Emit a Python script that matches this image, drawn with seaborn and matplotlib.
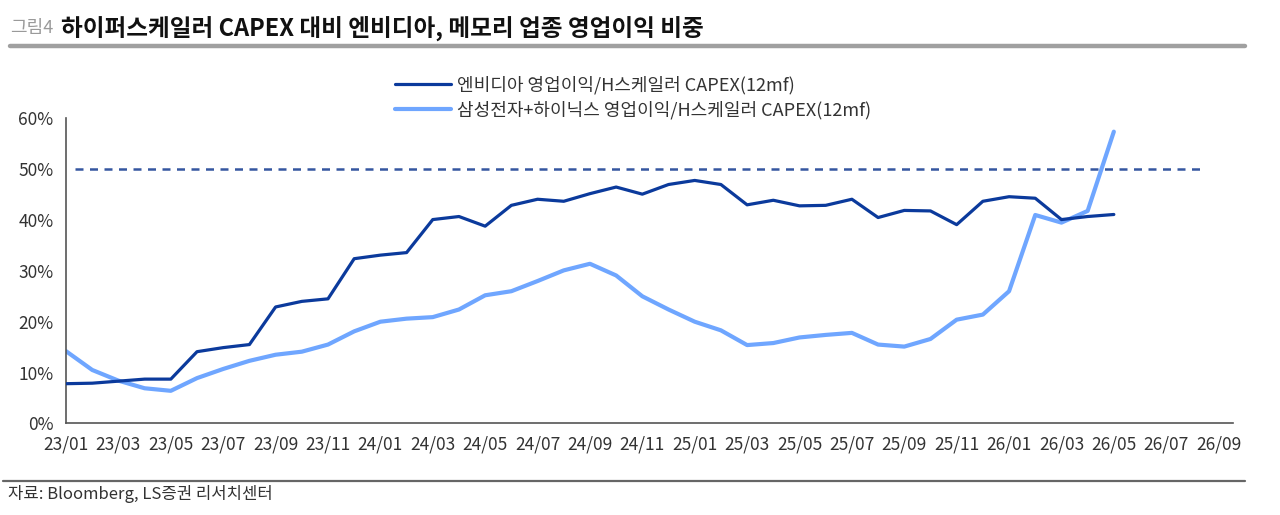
import pandas as pd
import numpy as np
import matplotlib.pyplot as plt
import seaborn as sns
from matplotlib.lines import Line2D
import warnings
warnings.filterwarnings('ignore')

# ------------------------------------------------------------
# Data (%)
# ------------------------------------------------------------
months = ['23/01', '23/02', '23/03', '23/04', '23/05', '23/06', '23/07', '23/08', '23/09', '23/10', '23/11', '23/12',
          '24/01', '24/02', '24/03', '24/04', '24/05', '24/06', '24/07', '24/08', '24/09', '24/10', '24/11', '24/12',
          '25/01', '25/02', '25/03', '25/04', '25/05', '25/06', '25/07', '25/08', '25/09', '25/10', '25/11', '25/12',
          '26/01', '26/02', '26/03', '26/04', '26/05']

nvidia = [7.8, 7.9, 8.3, 8.7, 8.7, 14.1, 14.9, 15.5, 22.9, 24.0, 24.5, 32.4,
          33.1, 33.6, 40.1, 40.7, 38.8, 42.9, 44.1, 43.7, 45.2, 46.5, 45.1, 47.0,
          47.8, 47.0, 43.0, 43.9, 42.8, 42.9, 44.1, 40.5, 41.9, 41.8, 39.1, 43.7,
          44.6, 44.3, 40.1, 40.7, 41.1]

memory = [14.2, 10.5, 8.4, 6.9, 6.4, 8.9, 10.7, 12.3, 13.5, 14.1, 15.5, 18.1,
          20.0, 20.6, 20.9, 22.4, 25.2, 26.0, 28.0, 30.1, 31.4, 29.1, 25.0, 22.4,
          20.0, 18.3, 15.4, 15.8, 16.9, 17.4, 17.8, 15.5, 15.1, 16.6, 20.4, 21.4,
          26.0, 41.0, 39.5, 41.8, 57.4]

tick_labels = ['23/01', '23/03', '23/05', '23/07', '23/09', '23/11', '24/01', '24/03', '24/05', '24/07',
               '24/09', '24/11', '25/01', '25/03', '25/05', '25/07', '25/09', '25/11', '26/01', '26/03',
               '26/05', '26/07', '26/09']

threshold = 50

label_nv = '엔비디아 영업이익/H스케일러 CAPEX(12mf)'
label_mem = '삼성전자+하이닉스 영업이익/H스케일러 CAPEX(12mf)'

df = pd.DataFrame({'t': np.arange(len(months)), label_nv: nvidia, label_mem: memory})
long = df.melt(id_vars='t', var_name='series', value_name='v')

# ------------------------------------------------------------
# Style
# ------------------------------------------------------------
sns.set_style('white')
plt.rcParams['font.family'] = ['Noto Sans CJK KR', 'DejaVu Sans']

c_dark = '#0b3a9c'
c_light = '#6fa6ff'
c_dash = '#3556a0'
c_axis = '#555555'

fig = plt.figure(figsize=(12.8, 5.15), dpi=100)
ax = fig.add_axes([0.0516, 0.178, 0.9117, 0.592])

sns.lineplot(data=long, x='t', y='v', hue='series', ax=ax,
             palette={label_nv: c_dark, label_mem: c_light}, legend=False)
ax.lines[0].set_linewidth(2.3)
ax.lines[1].set_linewidth(3.0)
ax.lines[1].set_zorder(2)
ax.lines[0].set_zorder(3)

# 50% 기준선
ax.hlines(threshold, 0.35, 43.35, colors=c_dash, linestyles=(0, (3.2, 2.6)), linewidth=1.8, zorder=1)

ax.set_xlim(0, 44.55)
ax.set_ylim(0, 60)
ax.set_xticks(np.arange(0, 45, 2))
ax.set_xticklabels(tick_labels)
ax.set_yticks(np.arange(0, 61, 10))
ax.set_yticklabels([f'{v}%' for v in range(0, 61, 10)])
for lbl in ax.get_xticklabels() + ax.get_yticklabels():
    lbl.set_fontsize(12.5)
    lbl.set_color('#333333')
ax.set_xlabel('')
ax.set_ylabel('')

for s in ['top', 'right']:
    ax.spines[s].set_visible(False)
for s in ['left', 'bottom']:
    ax.spines[s].set_color(c_axis)
    ax.spines[s].set_linewidth(1.2)
ax.tick_params(axis='both', direction='out', length=5, width=1.2, color=c_axis, pad=4)

# legend
handles = [Line2D([], [], color=c_dark, lw=2.3), Line2D([], [], color=c_light, lw=3.0)]
fig.legend(handles, [label_nv, label_mem], loc='upper left', bbox_to_anchor=(0.296, 0.885),
           frameon=False, fontsize=13, handlelength=3.1, handletextpad=0.3, labelspacing=0.4,
           labelcolor='#333333')

# title
fig.text(0.008, 0.945, '그림4', fontsize=13, color='#9a9a9a', va='center')
fig.text(0.048, 0.945, '하이퍼스케일러 CAPEX 대비 엔비디아, 메모리 업종 영업이익 비중',
         fontsize=17, fontweight='bold', color='#111111', va='center')
fig.add_artist(Line2D([0.008, 0.973], [0.91, 0.91], color='#a0a0a0', lw=3.2))

# footer
fig.add_artist(Line2D([0.002, 0.973], [0.066, 0.066], color='#666666', lw=1.6))
fig.text(0.006, 0.04, '자료: Bloomberg, LS증권 리서치센터', fontsize=12, color='#333333', va='center')

plt.savefig('out.png', dpi=100)
